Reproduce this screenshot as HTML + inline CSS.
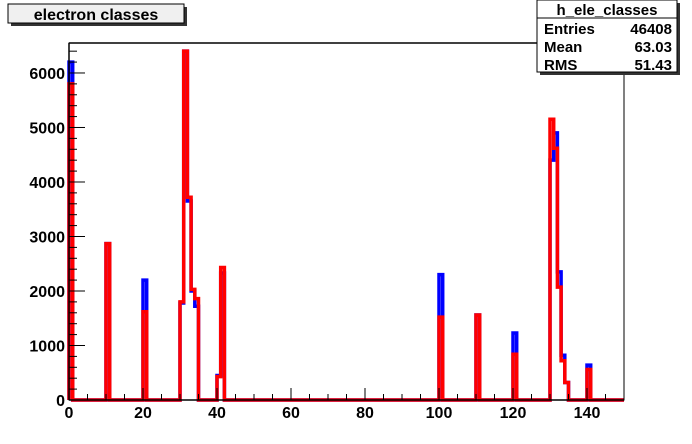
<!DOCTYPE html>
<html><head><meta charset="utf-8"><style>
body{margin:0;background:#fff;}
svg{display:block;font-family:"Liberation Sans",Arial,sans-serif;font-weight:bold;}
</style></head><body>
<svg id="c" width="692" height="444" xmlns="http://www.w3.org/2000/svg">
<rect x="0" y="0" width="692" height="444" fill="#fff"/>
<g>
<rect x="11" y="7" width="176" height="19" fill="#333"/>
<rect x="8" y="4" width="176" height="19" fill="#f0f0f0" stroke="#000" stroke-width="1"/>
<text x="96" y="20" text-anchor="middle" font-size="16">electron classes</text>
</g>
<g id="plot"></g>
<g>
<rect x="540" y="3" width="140" height="72" fill="#333"/>
<rect x="537" y="0" width="140" height="72" fill="#fff" stroke="#000" stroke-width="1"/>
<line x1="537" y1="18" x2="677" y2="18" stroke="#000"/>
<text x="607" y="15" text-anchor="middle" font-size="15">h_ele_classes</text>
<text x="544" y="34" font-size="15">Entries</text>
<text x="672" y="34" text-anchor="end" font-size="15">46408</text>
<text x="544" y="52" font-size="15">Mean</text>
<text x="672" y="52" text-anchor="end" font-size="15">63.03</text>
<text x="544" y="70" font-size="15">RMS</text>
<text x="672" y="70" text-anchor="end" font-size="15">51.43</text>
</g>
</svg>
<script>
const bins=[0,10,20,30,31,32,33,34,40,41,100,110,120,130,131,132,133,134,140];
const blueVals=[6200,2870,2200,1780,6400,3650,2000,1720,450,2330,2300,1560,1230,4400,4900,2350,820,320,640];
const redVals=[5800,2870,1620,1800,6400,3720,2030,1860,430,2430,1520,1560,840,5150,4620,2070,720,320,560];
const xTicks=[0,20,40,60,80,100,120,140];
const yTicks=[0,1000,2000,3000,4000,5000,6000];
const X0=69,X1=624,Y0=400,Y1=43,XMIN=0,XMAX=150,YMAX=6550;
const sx=v=>X0+(v-XMIN)/(XMAX-XMIN)*(X1-X0);
const sy=v=>Y0-v/YMAX*(Y0-Y1);
const NS="http://www.w3.org/2000/svg";
const g=document.getElementById('plot');
function mk(t,a){const e=document.createElementNS(NS,t);for(const k in a)e.setAttribute(k,a[k]);g.appendChild(e);return e;}
mk('rect',{x:X0,y:Y1,width:X1-X0,height:Y0-Y1,fill:'#fff',stroke:'#000','stroke-width':1});
function pathFor(vals){
  let d='M'+sx(XMIN)+','+sy(0);let prevEnd=XMIN;
  for(let i=0;i<bins.length;i++){
    const b=bins[i],v=vals[i];
    if(b>prevEnd){d+=' H'+sx(b);}
    d+=' V'+sy(v)+' H'+sx(b+1);
    const contig=(i+1<bins.length&&bins[i+1]===b+1);
    if(!contig)d+=' V'+sy(0);
    prevEnd=b+1;
  }
  d+=' H'+sx(XMAX);return d;
}
const pb=mk('path',{d:pathFor(blueVals),fill:'none',stroke:'#0000ff','stroke-width':3.5});


const pr=mk('path',{d:pathFor(redVals),fill:'none',stroke:'#ff0000','stroke-width':3.5});


mk('line',{x1:X0,y1:Y0,x2:X1,y2:Y0,stroke:'#000','stroke-width':1.5});
mk('line',{x1:X0,y1:Y0,x2:X0,y2:Y1,stroke:'#000','stroke-width':1.5});
mk('line',{x1:X0,y1:Y1,x2:X1,y2:Y1,stroke:'#000','stroke-width':1.5});
for(let v=0;v<=XMAX;v+=5){const big=v%20===0;mk('line',{x1:sx(v),y1:Y0,x2:sx(v),y2:Y0-(big?12:6),stroke:'#000'});}
xTicks.forEach(v=>{const t=mk('text',{x:sx(v),y:Y0+18,'text-anchor':'middle','font-size':16});t.textContent=v;

});
for(let v=0;v<=YMAX;v+=200){const big=v%1000===0;mk('line',{x1:X0,y1:sy(v),x2:X0+(big?16:8),y2:sy(v),stroke:'#000'});}
yTicks.forEach(v=>{const t=mk('text',{x:X0-4,y:sy(v)+6,'text-anchor':'end','font-size':16});t.textContent=v;

});
</script>
</body></html>
